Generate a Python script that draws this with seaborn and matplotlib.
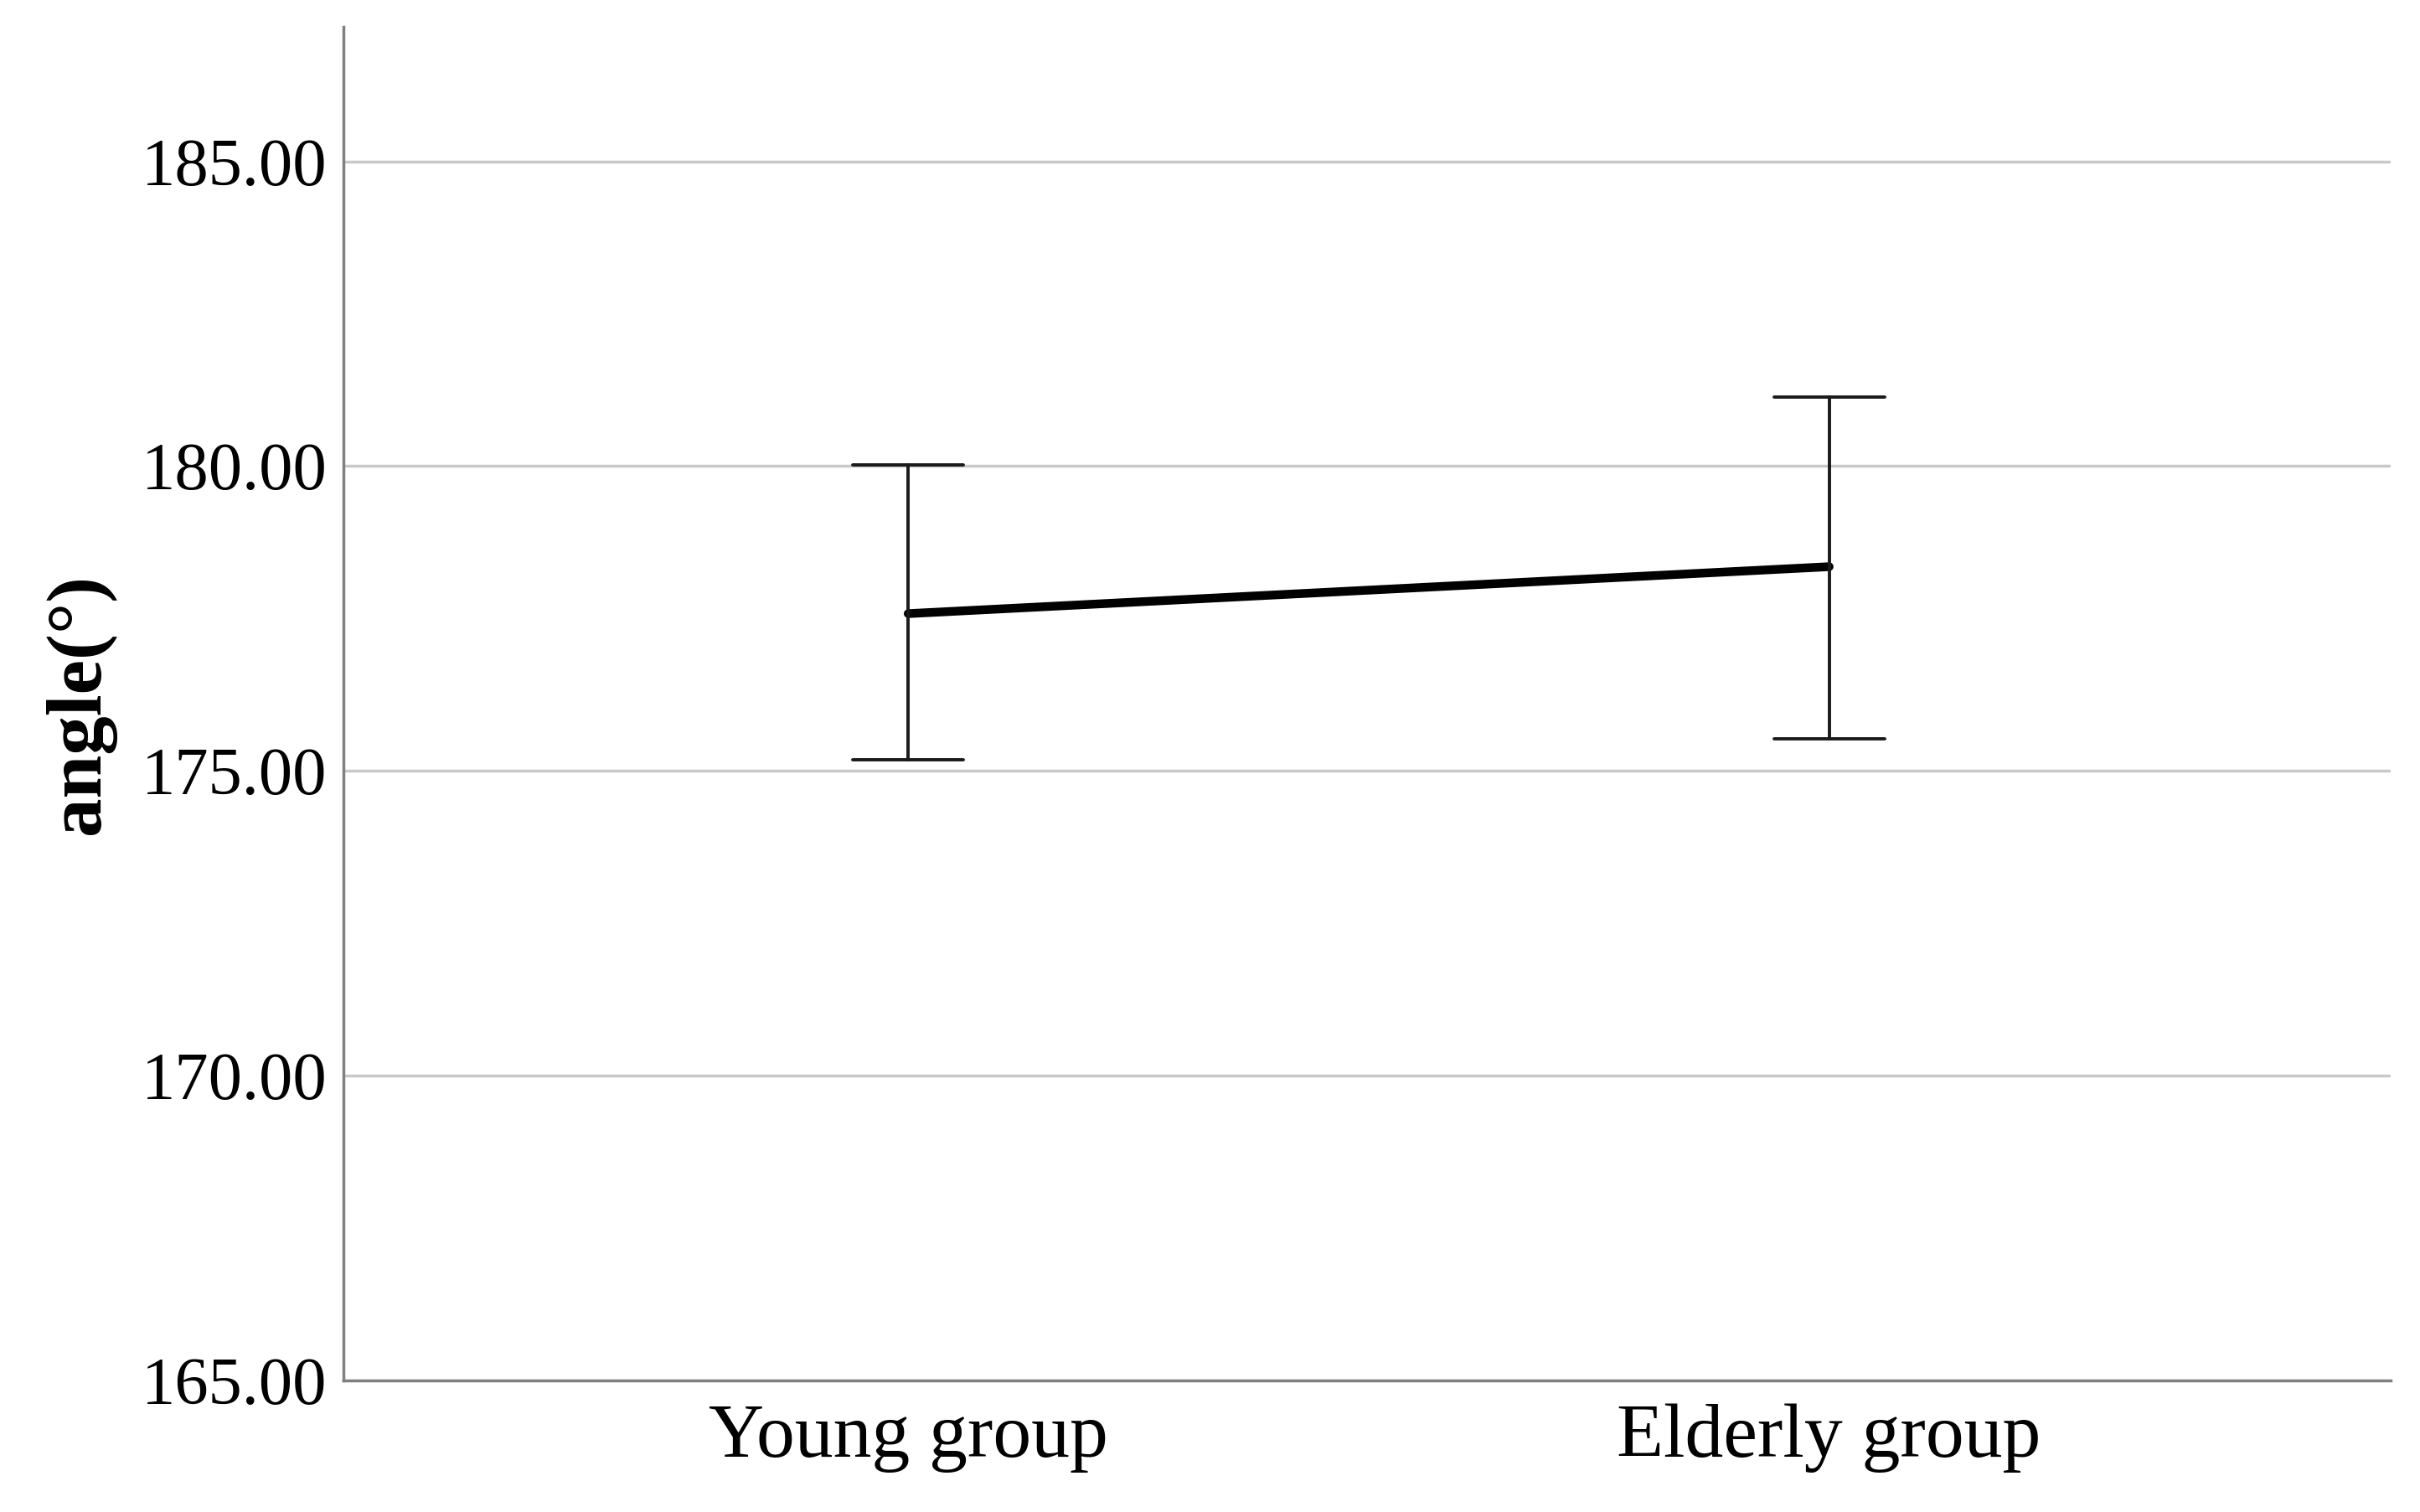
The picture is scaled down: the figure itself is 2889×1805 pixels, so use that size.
import pandas as pd
import matplotlib.pyplot as plt
import numpy as np
import seaborn as sb
from matplotlib.ticker import FormatStrFormatter

# valores
grupos = ["Young group", "Elderly group"]
media = [177.58, 178.35]
limite_inf = [175.18, 175.53]
limite_sup = [180.02, 181.13]

# tabela longa: inferior, media, superior por grupo
df = pd.DataFrame({
    "grupo": np.repeat(grupos, 3),
    "angulo": [v for i in range(len(grupos)) for v in (limite_inf[i], media[i], limite_sup[i])],
})

sb.set_style("white")
plt.rcParams["font.family"] = ["Liberation Serif", "DejaVu Serif"]

fig, ax = plt.subplots(figsize=(28.89, 18.05), dpi=100)

sb.pointplot(data=df, x="grupo", y="angulo", estimator=np.median,
             errorbar=lambda x: (np.min(x), np.max(x)),
             color="black", markers="", linewidth=7.5, capsize=0.12,
             err_kws={"linewidth": 2.8, "color": "#1a1a1a"}, ax=ax)

ax.set_ylim(165, 187.2)
ax.set_xlim(-0.613, 1.61)
ax.set_yticks([165, 170, 175, 180, 185])
ax.yaxis.set_major_formatter(FormatStrFormatter("%.2f"))
ax.yaxis.grid(True, color="#c8c8c8", linewidth=2.5)
ax.set_axisbelow(True)

for lado in ["top", "right"]:
    ax.spines[lado].set_visible(False)
for lado in ["left", "bottom"]:
    ax.spines[lado].set_color("#808080")
    ax.spines[lado].set_linewidth(2.5)

ax.tick_params(axis="y", length=0, labelsize=58, pad=14, labelcolor="black")
ax.tick_params(axis="x", length=0, labelsize=66, pad=20, labelcolor="black")
ax.set_xlabel("")
ax.set_ylabel("angle(°)", fontsize=67, fontweight="bold", labelpad=22, color="black")

plt.subplots_adjust(left=0.142, right=0.988, top=0.982, bottom=0.087)
plt.savefig("out.png", dpi=100)
